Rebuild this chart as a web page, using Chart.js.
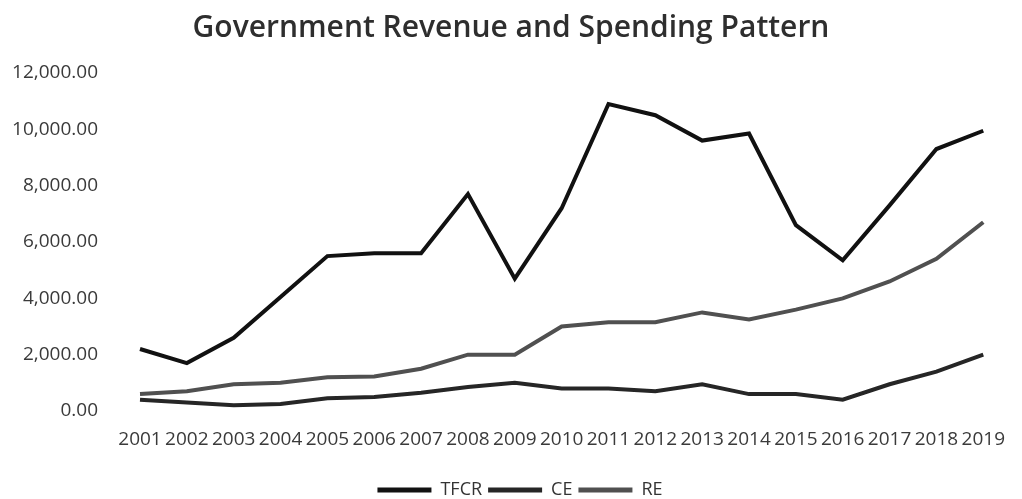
<!DOCTYPE html>
<html>
<head>
<meta charset="utf-8">
<script src="https://cdn.jsdelivr.net/npm/chart.js@4/dist/chart.umd.min.js"></script>
<style>
  html, body { margin: 0; padding: 0; background: #ffffff; }
  #wrap { width: 1022px; height: 499px; }
</style>
</head>
<body>
<div id="wrap"><canvas id="c" width="1022" height="499"></canvas></div>
<script>
const years = ["2001","2002","2003","2004","2005","2006","2007","2008","2009","2010","2011","2012","2013","2014","2015","2016","2017","2018","2019"];
const tfcr = [2200,1700,2600,4050,5500,5600,5600,7700,4700,7200,10900,10500,9600,9850,6600,5350,7300,9300,9950];
const ce   = [400,300,200,250,450,500,650,850,1000,800,800,700,950,600,600,400,950,1400,2000];
const re   = [600,700,950,1000,1200,1225,1500,2000,2000,3000,3150,3150,3500,3250,3600,4000,4600,5400,6700];
const yTicks = [0,2000,4000,6000,8000,10000,12000];
const seriesNames = ["TFCR","CE","RE"];
const seriesColors = ["#111111","#262626","#505050"];

const fmt = v => v.toLocaleString("en-US", {minimumFractionDigits: 2, maximumFractionDigits: 2});

const legendShift = {
  id: "legendShift",
  afterLayout(chart) {
    const lg = chart.legend;
    if (lg) { lg.left += 9; lg.right += 9; lg.top += 10; lg.bottom += 10; }
  }
};

const ctx = document.getElementById("c").getContext("2d");
new Chart(ctx, {
  type: "line",
  plugins: [legendShift],
  data: {
    labels: years,
    datasets: [tfcr, ce, re].map((d, i) => ({
      label: seriesNames[i],
      data: d,
      borderColor: seriesColors[i],
      backgroundColor: seriesColors[i],
      borderWidth: 4,
      pointRadius: 0,
      tension: 0,
      fill: false
    }))
  },
  options: {
    responsive: false,
    animation: false,
    layout: { padding: { left: 0, right: 0, top: 0, bottom: 0 } },
    plugins: {
      title: {
        display: true,
        text: "Government Revenue and Spending Pattern",
        color: "#2e2e2e",
        font: { family: "Open Sans", size: 30, weight: "600" },
        padding: { top: 10, bottom: 27 }
      },
      legend: {
        display: true,
        position: "bottom",
        labels: {
          color: "#333333",
          font: { family: "Open Sans", size: 18 },
          boxWidth: 54,
          boxHeight: 5,
          padding: 6,
          generateLabels: (chart) => chart.data.datasets.map((ds, i) => ({
            text: ds.label,
            fillStyle: ds.borderColor,
            strokeStyle: ds.borderColor,
            lineWidth: 0,
            fontColor: "#333333",
            hidden: false,
            datasetIndex: i
          }))
        }
      },
      tooltip: { enabled: false }
    },
    scales: {
      x: {
        offset: false,
        afterFit: (s) => { s.height = 54; },
        grid: { display: false, drawTicks: false },
        border: { display: false },
        ticks: {
          autoSkip: false,
          maxRotation: 0,
          minRotation: 0,
          padding: 17,
          color: "#3a3a3a",
          font: { family: "Open Sans", size: 19 }
        }
      },
      y: {
        min: 0,
        max: 12000,
        afterFit: (s) => { s.width = 140; },
        afterBuildTicks: (s) => { s.ticks = yTicks.map(v => ({ value: v })); },
        grid: { display: false, drawTicks: false },
        border: { display: false },
        ticks: {
          padding: 42,
          color: "#3a3a3a",
          font: { family: "Open Sans", size: 19 },
          callback: (v) => fmt(v)
        }
      }
    }
  }
});
</script>
</body>
</html>
